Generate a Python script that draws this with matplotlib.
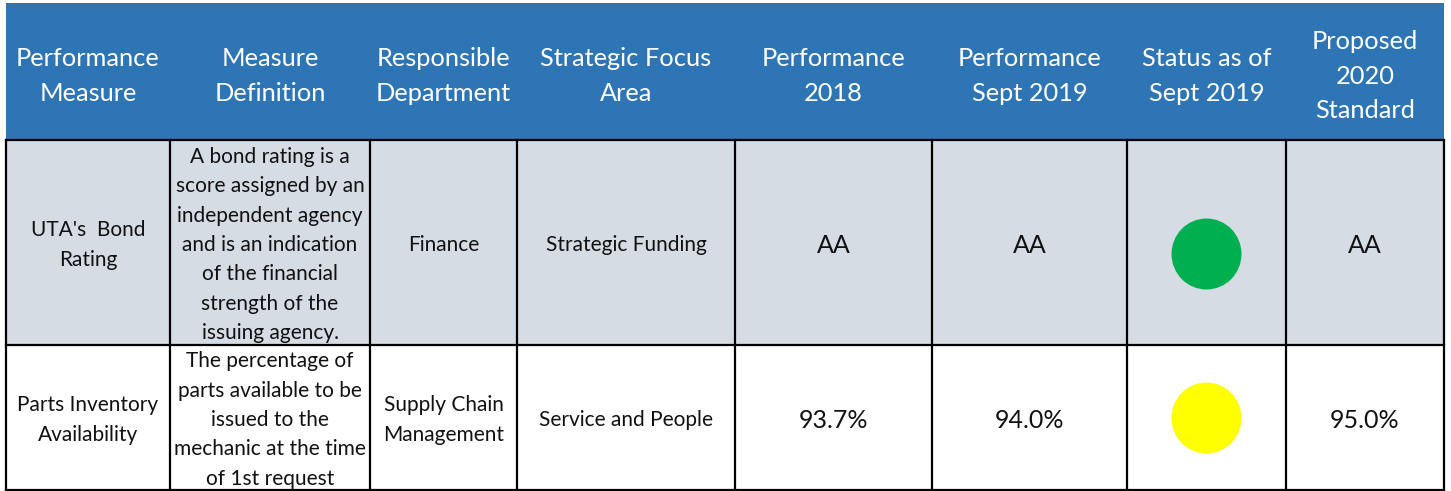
import matplotlib.pyplot as plt
from matplotlib.patches import Rectangle, Ellipse

plt.rcParams['font.family'] = ['Lato', 'DejaVu Sans']

# table content
headers = [
    "Performance\nMeasure",
    "Measure\nDefinition",
    "Responsible\nDepartment",
    "Strategic Focus\nArea",
    "Performance\n2018",
    "Performance\nSept 2019",
    "Status as of\nSept 2019",
    "Proposed\n2020\nStandard",
]
measures = ["UTA's  Bond\nRating", "Parts Inventory\nAvailability"]
definitions = [
    "A bond rating is a\nscore assigned by an\nindependent agency\nand is an indication\nof the financial\nstrength of the\nissuing agency.",
    "The percentage of\nparts available to be\nissued to the\nmechanic at the time\nof 1st request",
]
departments = ["Finance", "Supply Chain\nManagement"]
focus_areas = ["Strategic Funding", "Service and People"]
perf_2018 = ["AA", "93.7%"]
perf_sept2019 = ["AA", "94.0%"]
status = ["#00B050", "#FFFF00"]
standard_2020 = ["AA", "95.0%"]

# layout in pixels
col_edges = [6, 170, 370, 517, 735, 932, 1127, 1286, 1444]
row_edges = [3, 140, 345, 490]
row_fills = ["#D6DCE4", "#FFFFFF"]
header_fill = "#2E75B6"
dot_shift = [9, -2]

fig = plt.figure(figsize=(14.51, 4.91), dpi=100)
ax = fig.add_axes([0, 0, 1, 1])
ax.set_xlim(0, 1451)
ax.set_ylim(491, 0)
ax.axis("off")


def put_lines(x, yc, text, size, color, step):
    lines = text.split("\n")
    n = len(lines)
    for i, ln in enumerate(lines):
        y = yc + (i - (n - 1) / 2) * step
        ax.text(x, y, ln, ha="center", va="center", fontsize=size, color=color)


# header
ax.add_patch(Rectangle((col_edges[0], row_edges[0]), col_edges[-1] - col_edges[0],
                       row_edges[1] - row_edges[0], facecolor=header_fill, edgecolor="none"))
for j, h in enumerate(headers):
    xc = (col_edges[j] + col_edges[j + 1]) / 2
    put_lines(xc, 76, h, 18.3, "white", 34.5)

# body rows
for i in range(2):
    y0, y1 = row_edges[i + 1], row_edges[i + 2]
    yc = (y0 + y1) / 2 + 2.5
    ax.add_patch(Rectangle((col_edges[0], y0), col_edges[-1] - col_edges[0], y1 - y0,
                           facecolor=row_fills[i], edgecolor="none"))
    cells = [measures[i], definitions[i], departments[i], focus_areas[i],
             perf_2018[i], perf_sept2019[i], None, standard_2020[i]]
    for j, c in enumerate(cells):
        xc = (col_edges[j] + col_edges[j + 1]) / 2
        if c is None:
            ax.add_patch(Ellipse((xc, yc + dot_shift[i]), 70, 71,
                                 facecolor=status[i], edgecolor="none"))
        elif j >= 4:
            put_lines(xc, yc, c, 18.0, "#111111", 29.3)
        else:
            put_lines(xc, yc, c, 15.0, "#111111", 29.3)

# grid lines
lw = 1.6
for y in row_edges[1:]:
    ax.plot([col_edges[0], col_edges[-1]], [y, y], color="black", lw=lw, solid_capstyle="projecting")
for x in col_edges:
    ax.plot([x, x], [row_edges[1], row_edges[-1]], color="black", lw=lw, solid_capstyle="projecting")

fig.savefig("out.png", dpi=100)
